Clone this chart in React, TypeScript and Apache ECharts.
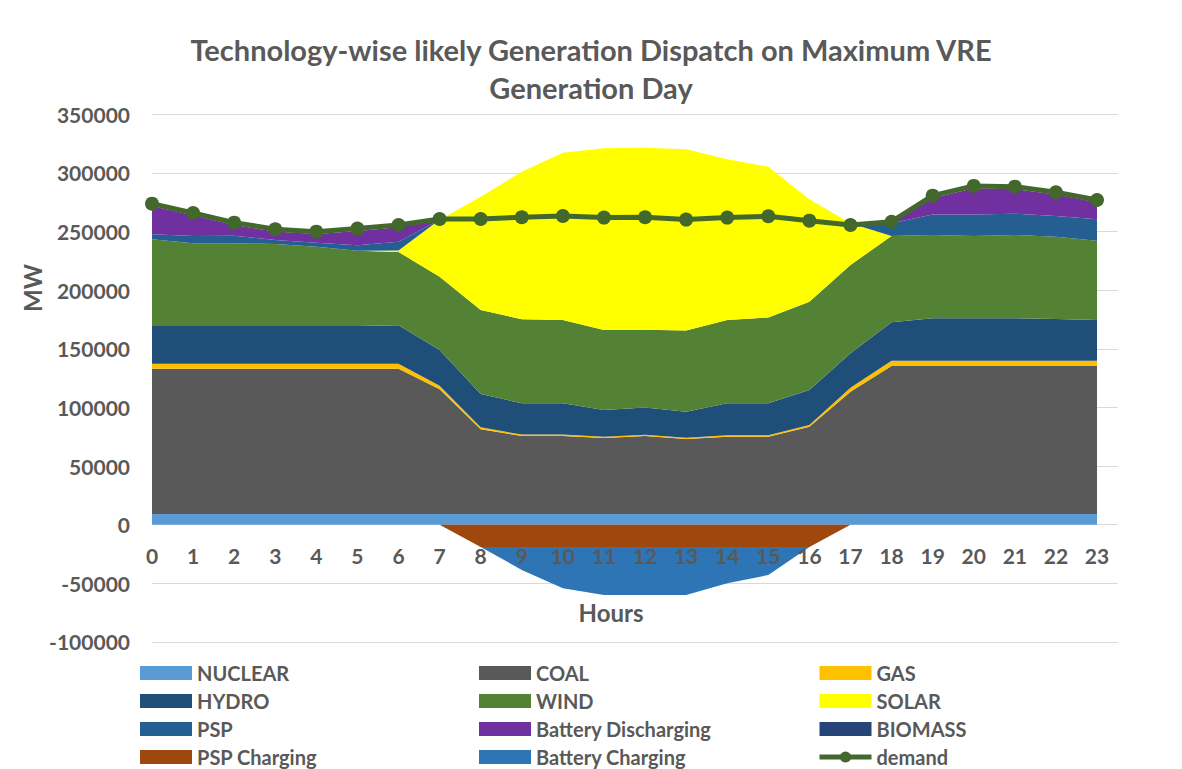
import React, { useEffect, useRef } from "react";
import * as echarts from "echarts";

const hours = ["0", "1", "2", "3", "4", "5", "6", "7", "8", "9", "10", "11", "12", "13", "14", "15", "16", "17", "18", "19", "20", "21", "22", "23"];
const yTicks = { min: -100000, max: 350000, interval: 50000 };

const nuclear = [9000, 9000, 9000, 9000, 9000, 9000, 9000, 9000, 9000, 9000, 9000, 9000, 9000, 9000, 9000, 9000, 9000, 9000, 9000, 9000, 9000, 9000, 9000, 9000];
const coal = [124000, 124000, 124000, 124000, 124000, 124000, 124000, 106500, 72400, 66600, 66600, 65000, 66600, 64000, 66000, 66000, 74600, 104400, 126400, 126400, 126400, 126400, 126400, 126400];
const gas = [4300, 4300, 4300, 4300, 4300, 4300, 4300, 3000, 1600, 1200, 1200, 1000, 1000, 1200, 1200, 1200, 1400, 3400, 4500, 4500, 4500, 4500, 4500, 4500];
const hydro = [32200, 32200, 32200, 32200, 32200, 32200, 32700, 30500, 28500, 26700, 26700, 22800, 23400, 22200, 27300, 27300, 29900, 29400, 32700, 36100, 36100, 36100, 35600, 34700];
const wind = [73900, 70500, 70500, 69900, 67600, 64200, 62600, 62500, 71500, 71700, 71100, 68200, 66300, 69100, 71100, 73100, 75300, 75300, 73600, 71000, 70200, 71000, 70100, 67600];
const solar = [0, 0, 0, 0, 0, 0, 1200, 48500, 96700, 125800, 142700, 155000, 155200, 154600, 137000, 128700, 87400, 35500, 0, 0, 0, 0, 0, 0];
const psp = [4300, 6200, 6500, 3400, 3400, 4600, 7500, 0, 0, 0, 0, 0, 0, 0, 0, 0, 0, 0, 10800, 17600, 18400, 18200, 17700, 18300];
const batteryDischarging = [24100, 17600, 9100, 7200, 7400, 12200, 12300, 0, 0, 0, 0, 0, 0, 0, 0, 0, 0, 0, 0, 14000, 22300, 21100, 18200, 14400];
const biomass = [0, 0, 0, 0, 0, 0, 0, 0, 0, 0, 0, 0, 0, 0, 0, 0, 0, 0, 0, 0, 0, 0, 0, 0];
const pspCharging = [0, 0, 0, 0, 0, 0, 0, 0, -19000, -19000, -19000, -19000, -19000, -19000, -19000, -19000, -19000, 0, 0, 0, 0, 0, 0, 0];
const batteryCharging = [0, 0, 0, 0, 0, 0, 0, 0, 0, -19600, -35300, -41000, -41000, -41000, -31000, -24000, 0, 0, 0, 0, 0, 0, 0, 0];
const demand = [273800, 265800, 257600, 252000, 249900, 252500, 255600, 260700, 260700, 262200, 263300, 261900, 262200, 260200, 261900, 263000, 259300, 255600, 258400, 280600, 288900, 288300, 283500, 276900];

const positiveSeries = [
  { name: "NUCLEAR", data: nuclear, color: "#5B9BD5" },
  { name: "COAL", data: coal, color: "#595959" },
  { name: "GAS", data: gas, color: "#FFC000" },
  { name: "HYDRO", data: hydro, color: "#1F4E79" },
  { name: "WIND", data: wind, color: "#548235" },
  { name: "SOLAR", data: solar, color: "#FFFF00" },
  { name: "PSP", data: psp, color: "#255E91" },
  { name: "Battery Discharging", data: batteryDischarging, color: "#7030A0" },
  { name: "BIOMASS", data: biomass, color: "#264478" },
];
const negativeSeries = [
  { name: "PSP Charging", data: pspCharging, color: "#9E480E" },
  { name: "Battery Charging", data: batteryCharging, color: "#2E75B6" },
];
const demandColor = "#43682B";

const legendCols = [
  ["NUCLEAR", "HYDRO", "PSP", "PSP Charging"],
  ["COAL", "WIND", "Battery Discharging", "Battery Charging"],
  ["GAS", "SOLAR", "BIOMASS", "demand"],
];
const legendLefts = [140, 479, 817];

const FONT = "Lato, 'Noto Sans', sans-serif";
const TXT = "#595959";

export default function App() {
  const ref = useRef<HTMLDivElement>(null);
  useEffect(() => {
    if (!ref.current) return;
    const chart = echarts.init(ref.current, null, { renderer: "svg" });
    const gridTop = 114.3;
    const gridBottomPx = 641.9;
    const gridBottom = 769 - gridBottomPx;
    const plotH = gridBottomPx - gridTop;
    const zeroOffset = -(plotH * (0 - yTicks.min)) / (yTicks.max - yTicks.min);
    const areaSeries = (s: any, stack: string) => ({
      name: s.name,
      type: "line",
      xAxisIndex: 1,
      yAxisIndex: 1,
      stack,
      data: s.data,
      symbol: "none",
      showSymbol: false,
      lineStyle: { width: 0 },
      itemStyle: { color: s.color },
      areaStyle: { color: s.color, opacity: 1 },
      emphasis: { disabled: true },
    });
    const option: any = {
      animation: false,
      backgroundColor: "#ffffff",
      title: {
        text: "Technology-wise likely Generation Dispatch on Maximum VRE\nGeneration Day",
        left: "center",
        top: 25,
        textStyle: { fontFamily: FONT, fontSize: 29, fontWeight: "bold", color: TXT, lineHeight: 38 },
      },
      grid: [
        { left: 152, right: 64, top: gridTop, bottom: gridBottom, containLabel: false },
        { left: 152, right: 85, top: gridTop, bottom: gridBottom, containLabel: false },
      ],
      xAxis: [
        {
          gridIndex: 0,
          type: "value",
          min: 0,
          max: 1,
          show: false,
          splitLine: { show: false },
        },
        {
          gridIndex: 1,
          type: "category",
          data: hours,
          boundaryGap: false,
          position: "bottom",
          offset: zeroOffset,
          z: 10,
          axisLine: { show: false, onZero: false },
          axisTick: { show: false },
          splitLine: { show: false },
          axisLabel: {
            margin: 20,
            interval: 0,
            fontFamily: FONT,
            fontSize: 21,
            fontWeight: "bold",
            color: TXT,
          },
        },
      ],
      yAxis: [
        {
          gridIndex: 0,
          type: "value",
          min: yTicks.min,
          max: yTicks.max,
          interval: yTicks.interval,
          axisLine: { show: false },
          axisTick: { show: false },
          splitLine: { lineStyle: { color: "#D9D9D9", width: 1 } },
          axisLabel: {
            margin: 22,
            fontFamily: FONT,
            fontSize: 21,
            fontWeight: "bold",
            color: TXT,
            formatter: (v: number) => String(v),
          },
        },
        {
          gridIndex: 1,
          type: "value",
          min: yTicks.min,
          max: yTicks.max,
          interval: yTicks.interval,
          show: false,
          splitLine: { show: false },
        },
      ],
      legend: legendCols.map((col, ci) => ({
        orient: "vertical",
        left: legendLefts[ci],
        top: 663,
        height: 110,
        padding: 0,
        itemWidth: 52,
        itemHeight: 14,
        itemGap: 8,
        selectedMode: false,
        textStyle: { fontFamily: FONT, fontSize: 20, fontWeight: "bold", color: TXT, lineHeight: 20 },
        data: col.map((n) =>
          n === "demand"
            ? { name: n, lineStyle: { width: 5, color: demandColor }, itemStyle: { color: demandColor } }
            : { name: n, icon: "rect" }
        ),
      })),
      graphic: [
        {
          type: "text",
          x: 611,
          y: 612,
          z: 100,
          style: { text: "Hours", fontFamily: FONT, fontSize: 24, fontWeight: "bold", fill: TXT, align: "center", verticalAlign: "middle" },
        },
        {
          type: "text",
          x: 32,
          y: 288,
          rotation: Math.PI / 2,
          style: { text: "MW", fontFamily: FONT, fontSize: 24, fontWeight: "bold", fill: TXT, align: "center", verticalAlign: "middle" },
        },
      ],
      series: [
        ...positiveSeries.map((s) => areaSeries(s, "pos")),
        ...negativeSeries.map((s) => areaSeries(s, "neg")),
        {
          name: "demand",
          type: "line",
          xAxisIndex: 1,
          yAxisIndex: 1,
          data: demand,
          symbol: "circle",
          symbolSize: 14,
          z: 5,
          lineStyle: { color: demandColor, width: 5 },
          itemStyle: { color: demandColor },
          emphasis: { disabled: true },
        },
      ],
    };
    chart.setOption(option);
    return () => chart.dispose();
  }, []);
  return <div ref={ref} style={{ position: "absolute", left: 0, top: 0, width: 1182, height: 769 }} />;
}
